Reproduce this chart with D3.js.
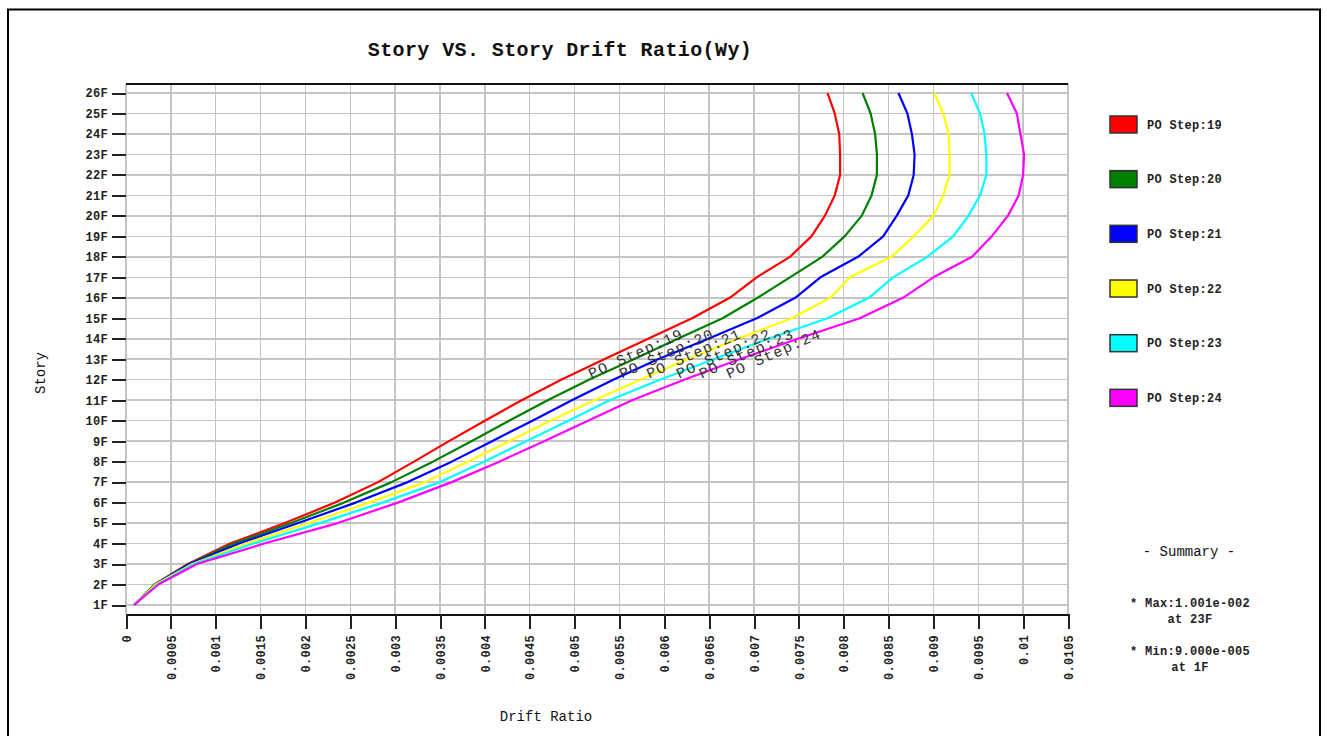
<!DOCTYPE html>
<html><head><meta charset="utf-8">
<script src="https://cdn.jsdelivr.net/npm/d3@7/dist/d3.min.js"></script>
<style>
body{margin:0;background:#fff;}
svg{display:block;}
text{font-family:"Liberation Mono","Courier New",monospace;}
</style></head><body>
<svg id="c" width="1327" height="736"></svg>
<script>
// ---------- data ----------
const stories = ["1F","2F","3F","4F","5F","6F","7F","8F","9F","10F","11F","12F","13F",
  "14F","15F","16F","17F","18F","19F","20F","21F","22F","23F","24F","25F","26F"];
const seriesNames = ["PO Step:19","PO Step:20","PO Step:21","PO Step:22","PO Step:23","PO Step:24"];
const seriesColors = ["#ff0000","#008000","#0000ff","#ffff00","#00ffff","#ff00ff"];
const step19 = [0.00009,0.00032,0.00069,0.00116,0.00177,0.00233,0.00281,0.00321,0.00360,0.00400,0.00441,0.00485,0.00533,
  0.00582,0.00631,0.00673,0.00703,0.00740,0.00764,0.00779,0.00790,0.00796,0.00796,0.00795,0.00790,0.00782];
const step20 = [0.00009,0.00032,0.00070,0.00120,0.00184,0.00243,0.00296,0.00342,0.00385,0.00427,0.00470,0.00516,0.00566,
  0.00615,0.00665,0.00704,0.00740,0.00776,0.00801,0.00820,0.00831,0.00837,0.00837,0.00835,0.00830,0.00821];
const step21 = [0.00009,0.00033,0.00071,0.00126,0.00192,0.00256,0.00314,0.00363,0.00408,0.00453,0.00497,0.00543,0.00593,
  0.00649,0.00703,0.00746,0.00774,0.00816,0.00844,0.00859,0.00872,0.00878,0.00879,0.00876,0.00871,0.00861];
const step22 = [0.00009,0.00033,0.00074,0.00134,0.00203,0.00271,0.00333,0.00381,0.00427,0.00473,0.00522,0.00573,0.00626,
  0.00682,0.00742,0.00785,0.00807,0.00853,0.00878,0.00900,0.00911,0.00918,0.00918,0.00917,0.00911,0.00901];
const step23 = [0.00009,0.00035,0.00076,0.00142,0.00216,0.00286,0.00350,0.00399,0.00446,0.00493,0.00539,0.00595,0.00655,
  0.00716,0.00782,0.00828,0.00855,0.00893,0.00922,0.00939,0.00952,0.00959,0.00959,0.00957,0.00952,0.00942];
const step24 = [0.00009,0.00036,0.00079,0.00154,0.00236,0.00303,0.00363,0.00416,0.00466,0.00515,0.00564,0.00622,0.00684,
  0.00749,0.00818,0.00866,0.00900,0.00943,0.00965,0.00983,0.00995,0.01000,0.01001,0.00997,0.00993,0.00982];
const seriesValues = [step19, step20, step21, step22, step23, step24];
const xTickValues = [0,0.0005,0.001,0.0015,0.002,0.0025,0.003,0.0035,0.004,0.0045,0.005,0.0055,
  0.006,0.0065,0.007,0.0075,0.008,0.0085,0.009,0.0095,0.01,0.0105];
const chartTitle = "Story VS. Story Drift Ratio(Wy)";
const xTitle = "Drift Ratio";
const yTitle = "Story";

// ---------- layout ----------
const svg = d3.select("#c");
const L = 126, R = 1068, T = 84, B = 614;
const x = d3.scaleLinear().domain([0, 0.0105]).range([L, R]);
const y = d3.scaleLinear().domain([1, 26]).range([605, 93]);
const storyNum = s => +s.replace("F","");

// outer frame
svg.append("rect").attr("x",8).attr("y",9.5).attr("width",1312).attr("height",740)
  .attr("fill","none").attr("stroke","#000").attr("stroke-width",2);

// title
svg.append("text").attr("x",560).attr("y",56).attr("text-anchor","middle")
  .attr("font-size",20).attr("font-weight","bold").attr("letter-spacing",0.4)
  .attr("fill","#111").text(chartTitle);

// grid
const g = svg.append("g").attr("shape-rendering","crispEdges");
g.selectAll("line.hg").data(stories).join("line").attr("class","hg")
  .attr("x1",L).attr("x2",R).attr("y1",d=>y(storyNum(d))).attr("y2",d=>y(storyNum(d)))
  .attr("stroke","#c4c4c4").attr("stroke-width",1.5);
g.selectAll("line.vg").data(xTickValues).join("line").attr("class","vg")
  .attr("x1",d=>x(d)).attr("x2",d=>x(d)).attr("y1",T).attr("y2",B)
  .attr("stroke","#c4c4c4").attr("stroke-width",1.5);

// plot top border
g.append("line").attr("x1",L).attr("x2",R).attr("y1",T).attr("y2",T).attr("stroke","#111").attr("stroke-width",2);

// x axis
const xAxis = d3.axisBottom(x).tickValues(xTickValues).tickSize(15).tickPadding(6)
  .tickFormat(d => d === 0 ? "0" : String(+d.toFixed(4)));
const xg = svg.append("g").attr("transform",`translate(0,${B})`).call(xAxis);
xg.select(".domain").attr("stroke","#111").attr("stroke-width",2).attr("shape-rendering","crispEdges");
xg.selectAll(".tick line").attr("stroke","#222").attr("stroke-width",2).attr("shape-rendering","crispEdges");
xg.selectAll(".tick text")
  .attr("font-family","'Liberation Mono','Courier New',monospace")
  .attr("font-size",12).attr("font-weight","bold").attr("letter-spacing",0.3).attr("fill","#222")
  .attr("text-anchor","end").attr("transform","rotate(-90)")
  .attr("x",-21).attr("y",0).attr("dy","0.35em");

// y axis
const yAxis = d3.axisLeft(y).tickValues(stories.map(storyNum)).tickSize(14).tickPadding(4)
  .tickFormat(d => stories[d-1]);
const yg = svg.append("g").attr("transform",`translate(${L},0)`).call(yAxis);
yg.select(".domain").remove();
yg.selectAll(".tick line").attr("stroke","#222").attr("stroke-width",2).attr("shape-rendering","crispEdges");
yg.selectAll(".tick text")
  .attr("font-family","'Liberation Mono','Courier New',monospace")
  .attr("font-size",12).attr("font-weight","bold").attr("letter-spacing",0.3).attr("fill","#222");

// axis titles
svg.append("text").attr("x",546).attr("y",721).attr("text-anchor","middle")
  .attr("font-size",14).attr("fill","#111").text(xTitle);
svg.append("text").attr("transform","translate(45,373) rotate(-90)").attr("text-anchor","middle")
  .attr("font-size",14).attr("fill","#111").text(yTitle);

// curves
const line = d3.line().x(d=>x(d[0])).y(d=>y(d[1]));
seriesValues.forEach((vals,i)=>{
  const pts = vals.map((v,k)=>[v, storyNum(stories[k])]);
  svg.append("path").datum(pts).attr("d",line).attr("fill","none")
    .attr("stroke",seriesColors[i]).attr("stroke-width",2.2).attr("stroke-linejoin","round");
});

// curve labels
seriesValues.forEach((vals,i)=>{
  const k = 11;
  const px = x(vals[k]) + 30 + i*3, py = y(storyNum(stories[k])) - 1;
  svg.append("text").attr("transform",`translate(${px},${py}) rotate(-24)`)
    .attr("font-size",15).attr("letter-spacing",1.2).attr("fill","#333").text(seriesNames[i]);
});

// legend
seriesNames.forEach((n,i)=>{
  const yy = 116 + i*54.67;
  svg.append("rect").attr("x",1110).attr("y",yy).attr("width",27).attr("height",17)
    .attr("fill",seriesColors[i]).attr("stroke","#333").attr("stroke-width",1.5);
  svg.append("text").attr("x",1147).attr("y",yy+8.5).attr("dy","0.35em")
    .attr("font-size",12).attr("font-weight","bold").attr("letter-spacing",0.3).attr("fill","#222").text(n);
});

// summary
let maxV=-Infinity,maxK=0,minV=Infinity,minK=0;
seriesValues.forEach(vals=>vals.forEach((v,k)=>{
  if(v>maxV){maxV=v;maxK=k;}
  if(v<minV){minV=v;minK=k;}
}));
const fmtE = v => { const [m,e] = v.toExponential(3).split("e");
  const n = Math.abs(+e); return m + "e" + (+e<0?"-":"+") + String(n).padStart(3,"0"); };
svg.append("text").attr("x",1189).attr("y",551).attr("dy","0.35em").attr("text-anchor","middle")
  .attr("font-size",14).attr("fill","#111").text("- Summary -");
const sumLines = [["* Max:"+fmtE(maxV),603],["at "+stories[maxK],619],["* Min:"+fmtE(minV),651],["at "+stories[minK],667]];
sumLines.forEach(([t,yy])=>{
  svg.append("text").attr("x",1190).attr("y",yy).attr("dy","0.35em").attr("text-anchor","middle")
    .attr("font-size",12).attr("font-weight","bold").attr("letter-spacing",0.3).attr("fill","#222").text(t);
});
</script></body></html>
